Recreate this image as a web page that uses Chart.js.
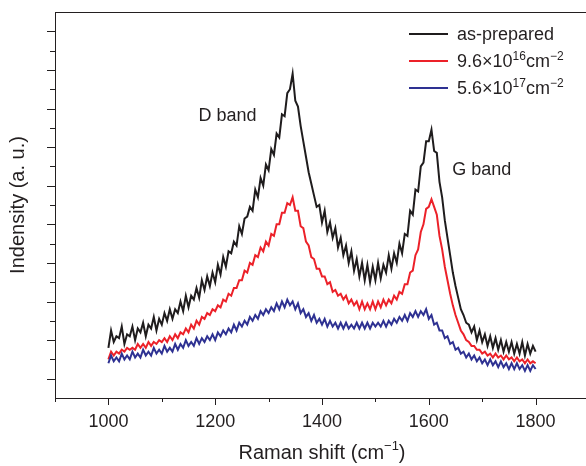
<!DOCTYPE html>
<html>
<head>
<meta charset="utf-8">
<title>Raman spectra</title>
<script src="https://cdn.jsdelivr.net/npm/chart.js@4.4.1/dist/chart.umd.min.js"></script>
<style>
  html, body { margin: 0; padding: 0; background: #fff; overflow: hidden; }
  #wrap { width: 586px; height: 466px; overflow: hidden; }
</style>
</head>
<body>
<div id="wrap"><canvas id="raman" width="600" height="466"></canvas></div>
<script>
// ── Data ──

var SHIFT = [
  1000,1005,1010,1015,1020,1025,1030,1035,1040,1045,1050,1055,1060,1065,1070,1075,1080,1085,1090,1095,
  1100,1105,1110,1115,1120,1125,1130,1135,1140,1145,1150,1155,1160,1165,1170,1175,1180,1185,1190,1195,
  1200,1205,1210,1215,1220,1225,1230,1235,1240,1245,1250,1255,1260,1265,1270,1275,1280,1285,1290,1295,
  1300,1305,1310,1315,1320,1325,1330,1335,1340,1345,1350,1355,1360,1365,1370,1375,1380,1385,1390,1395,
  1400,1405,1410,1415,1420,1425,1430,1435,1440,1445,1450,1455,1460,1465,1470,1475,1480,1485,1490,1495,
  1500,1505,1510,1515,1520,1525,1530,1535,1540,1545,1550,1555,1560,1565,1570,1575,1580,1585,1590,1595,
  1600,1605,1610,1615,1620,1625,1630,1635,1640,1645,1650,1655,1660,1665,1670,1675,1680,1685,1690,1695,
  1700,1705,1710,1715,1720,1725,1730,1735,1740,1745,1750,1755,1760,1765,1770,1775,1780,1785,1790,1795,
  1800
];

var AS_PREPARED = [
  2.6,3.5,2.9,3.2,3.1,3.7,2.8,3.3,3.2,3.7,3.0,3.6,3.4,3.9,3.2,3.8,3.6,4.2,3.5,4.1,
  3.8,4.4,4.0,4.6,4.1,4.6,4.4,5.0,4.5,5.3,4.7,5.3,5.1,5.7,5.2,6.1,5.6,6.3,5.8,6.5,
  6.0,6.9,6.4,7.3,6.8,7.6,7.5,8.1,7.9,8.9,8.5,9.3,9.4,9.9,9.7,10.8,10.4,11.4,11.0,12.1,
  11.8,12.9,12.6,13.7,13.5,14.7,14.6,15.8,16.0,16.8,15.4,15.1,14.1,13.3,12.5,11.7,11.1,10.5,9.9,10.0,
  9.1,9.7,8.6,9.1,8.3,8.8,7.8,8.3,7.4,7.9,7.0,7.6,6.6,7.2,6.3,7.0,6.1,6.9,6.0,6.8,
  6.1,7.0,6.2,6.9,6.5,7.4,6.7,7.5,7.0,8.0,7.5,8.5,8.4,9.7,9.5,10.8,10.7,12.0,12.2,13.3,
  13.3,13.9,12.8,12.7,11.2,10.4,9.2,8.3,7.4,6.5,5.8,5.2,4.6,4.3,3.9,3.8,3.4,3.7,3.0,3.5,
  2.9,3.3,2.7,3.2,2.6,3.1,2.5,3.0,2.4,2.9,2.4,2.9,2.3,2.8,2.3,2.9,2.2,2.8,2.3,2.7,
  2.4
];

var DOSE_96E16 = [
  2.0,2.4,2.2,2.4,2.3,2.5,2.4,2.6,2.5,2.6,2.5,2.8,2.6,2.8,2.6,2.9,2.7,2.9,2.8,3.0,
  2.9,3.1,2.9,3.2,3.0,3.3,3.1,3.4,3.3,3.6,3.4,3.8,3.6,4.0,3.8,4.2,4.1,4.4,4.3,4.6,
  4.5,4.8,4.7,5.1,5.0,5.4,5.3,5.7,5.7,6.1,6.1,6.6,6.5,7.0,6.9,7.4,7.3,7.8,7.6,8.1,
  7.9,8.5,8.4,9.0,9.0,9.6,9.6,10.1,10.0,10.4,9.7,9.7,8.9,8.8,8.1,7.9,7.3,7.2,6.7,6.7,
  6.3,6.3,5.9,6.0,5.5,5.6,5.3,5.4,5.1,5.3,4.9,5.1,4.8,5.0,4.6,5.0,4.6,4.9,4.6,5.0,
  4.6,5.0,4.7,5.1,4.8,5.1,4.9,5.3,5.1,5.5,5.4,5.9,5.9,6.5,6.6,7.4,7.7,8.6,9.0,9.8,
  9.9,10.3,9.9,9.5,8.4,7.7,6.8,6.1,5.4,4.8,4.3,3.9,3.5,3.3,3.0,2.9,2.7,2.7,2.5,2.5,
  2.3,2.4,2.2,2.3,2.1,2.3,2.1,2.2,2.0,2.2,2.0,2.1,1.9,2.1,1.9,2.0,1.8,2.0,1.8,1.9,
  1.8
];

var DOSE_56E17 = [
  1.8,2.2,1.9,2.1,1.9,2.3,2.0,2.2,2.0,2.4,2.1,2.3,2.1,2.5,2.2,2.4,2.2,2.6,2.3,2.5,
  2.3,2.7,2.4,2.6,2.4,2.8,2.5,2.8,2.6,3.0,2.7,2.9,2.7,3.1,2.8,3.1,2.9,3.2,3.0,3.3,
  3.0,3.4,3.2,3.5,3.3,3.6,3.4,3.8,3.5,3.9,3.7,4.0,3.8,4.2,4.0,4.3,4.1,4.5,4.3,4.6,
  4.4,4.7,4.5,4.9,4.6,5.0,4.7,5.1,4.8,5.0,4.6,4.9,4.4,4.6,4.2,4.4,4.0,4.3,3.9,4.1,
  3.8,4.1,3.7,4.0,3.7,3.9,3.6,3.9,3.6,3.9,3.6,3.8,3.6,3.9,3.6,3.9,3.6,3.9,3.6,3.9,
  3.7,3.9,3.7,4.0,3.7,4.0,3.8,4.1,3.9,4.2,4.0,4.3,4.0,4.4,4.2,4.5,4.2,4.5,4.3,4.6,
  4.1,4.3,3.8,3.9,3.5,3.5,3.1,3.2,2.8,2.9,2.5,2.6,2.3,2.4,2.1,2.3,2.0,2.2,1.9,2.1,
  1.8,2.0,1.7,2.0,1.7,1.9,1.6,1.9,1.6,1.8,1.5,1.8,1.5,1.8,1.5,1.7,1.4,1.7,1.4,1.7,
  1.5
];

var X_LABELS = [1000, 1200, 1400, 1600, 1800];

// text pieces, flag 1 = superscript
var X_TITLE = [["Raman shift (cm", 0], ["\u22121", 1], [")", 0]];
var LEGEND = [
  [["as-prepared", 0]],
  [["9.6\u00d710", 0], ["16", 1], ["cm", 0], ["\u22122", 1]],
  [["5.6\u00d710", 0], ["17", 1], ["cm", 0], ["\u22122", 1]],
];

var BANDS = [
  { text: "D band", x: 1223, y: 14.6 },
  { text: "G band", x: 1699, y: 11.8 },
];

var INK = "#231f20";
var COLORS = ["#1f1c1d", "#ec2129", "#2e3192"];
var FONT = "'Liberation Sans', Arial, Helvetica, sans-serif";

function points(ys) {
  return SHIFT.map(function (x, i) { return { x: x, y: ys[i] }; });
}

// draws text pieces with superscripts, starting at x (left) on baseline y
function richText(ctx, parts, x, y, size, supSize, rise) {
  parts.forEach(function (p) {
    ctx.font = (p[1] ? supSize : size) + "px " + FONT;
    ctx.fillText(p[0], x, p[1] ? y - rise : y);
    x += ctx.measureText(p[0]).width;
  });
  return x;
}

function richWidth(ctx, parts, size, supSize) {
  var w = 0;
  parts.forEach(function (p) {
    ctx.font = (p[1] ? supSize : size) + "px " + FONT;
    w += ctx.measureText(p[0]).width;
  });
  return w;
}

// ── Plugin: tick marks, frame, labels, legend ──

var decorations = {
  id: "decorations",
  afterDraw: function (chart) {
    var ctx = chart.ctx;
    var xs = chart.scales.x;
    var ys = chart.scales.y;
    var area = chart.chartArea;

    ctx.save();
    ctx.strokeStyle = INK;
    ctx.lineWidth = 1;

    // top frame line
    ctx.beginPath();
    ctx.moveTo(area.left, area.top + 0.5);
    ctx.lineTo(area.right, area.top + 0.5);
    ctx.stroke();

    // x ticks: long at labelled values, short between
    ctx.beginPath();
    for (var v = 900; v <= 1900; v += 100) {
      var px = Math.round(xs.getPixelForValue(v)) + 0.5;
      var len = (v % 200 === 0) ? 7 : 4;
      ctx.moveTo(px, area.bottom);
      ctx.lineTo(px, area.bottom + len);
    }
    // y ticks: alternating long / short
    for (var k = 1; k < 20; k++) {
      var py = Math.round(ys.getPixelForValue(k)) + 0.5;
      var l = (k % 2 === 1) ? 8 : 5;
      ctx.moveTo(area.left, py);
      ctx.lineTo(area.left - l, py);
    }
    ctx.stroke();

    ctx.fillStyle = INK;
    ctx.textBaseline = "alphabetic";
    ctx.textAlign = "left";

    // x axis title with superscript
    var tw = richWidth(ctx, X_TITLE, 20, 13);
    richText(ctx, X_TITLE, (area.left + area.right) / 2 - tw / 2, 459, 20, 13, 9);

    // band labels
    ctx.font = "18px " + FONT;
    ctx.textAlign = "center";
    ctx.textBaseline = "middle";
    BANDS.forEach(function (b) {
      ctx.fillText(b.text, xs.getPixelForValue(b.x), ys.getPixelForValue(b.y));
    });

    // legend
    ctx.textAlign = "left";
    ctx.textBaseline = "alphabetic";
    LEGEND.forEach(function (parts, i) {
      var y = 34 + i * 27;
      ctx.strokeStyle = COLORS[i];
      ctx.lineWidth = 2;
      ctx.beginPath();
      ctx.moveTo(409, y);
      ctx.lineTo(448, y);
      ctx.stroke();
      richText(ctx, parts, 457, y + 6, 18, 12, 7);
    });
    ctx.restore();
  },
};

// ── Chart ──

function main() {
  Chart.defaults.font.family = FONT;
  Chart.defaults.color = INK;

  var ctx = document.getElementById("raman").getContext("2d");
  new Chart(ctx, {
    type: "line",
    data: {
      datasets: [
        { label: "as-prepared", data: points(AS_PREPARED), borderColor: COLORS[0], order: 3 },
        { label: "9.6e16", data: points(DOSE_96E16), borderColor: COLORS[1], order: 2 },
        { label: "5.6e17", data: points(DOSE_56E17), borderColor: COLORS[2], order: 1 },
      ],
    },
    options: {
      responsive: false,
      animation: false,
      layout: { padding: { top: 12, right: 11, left: 0, bottom: 0 } },
      elements: {
        line: { borderWidth: 2, tension: 0 },
        point: { radius: 0 },
      },
      plugins: { legend: { display: false }, tooltip: { enabled: false } },
      scales: {
        x: {
          type: "linear",
          min: 900,
          max: 1900,
          afterFit: function (s) { s.height = 68; },
          ticks: {
            stepSize: 100,
            autoSkip: false,
            maxRotation: 0,
            padding: 6,
            font: { size: 18 },
            callback: function (v) { return X_LABELS.indexOf(v) >= 0 ? String(v) : ""; },
          },
          grid: { drawOnChartArea: false, drawTicks: true, tickLength: 7, tickColor: "rgba(0,0,0,0)" },
          border: { color: INK, width: 1 },
        },
        y: {
          min: 0,
          max: 20,
          afterFit: function (s) { s.width = 55; },
          ticks: { display: false, stepSize: 1 },
          grid: { drawOnChartArea: false, drawTicks: false },
          border: { color: INK, width: 1 },
          title: {
            display: true,
            text: "Indensity (a. u.)",
            font: { size: 20 },
            padding: { top: 6, bottom: 0 },
          },
        },
      },
    },
    plugins: [decorations],
  });
}

document.addEventListener("DOMContentLoaded", main);
</script>
</body>
</html>
